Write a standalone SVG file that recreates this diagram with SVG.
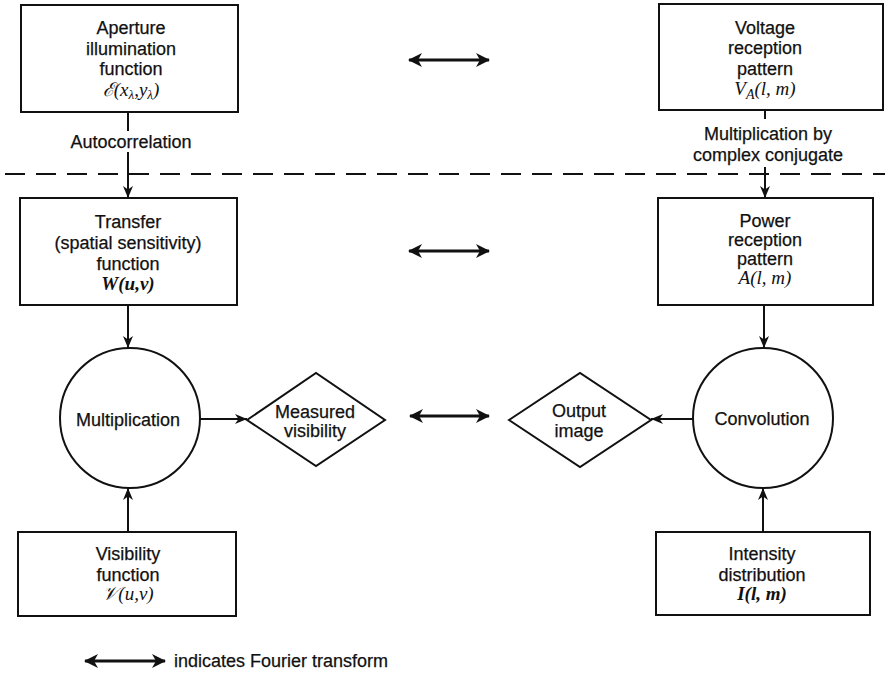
<svg xmlns="http://www.w3.org/2000/svg" width="885" height="674" viewBox="0 0 885 674">
<style>
.box{fill:#fff;stroke:#111;stroke-width:2}
.shape{fill:#fff;stroke:#111;stroke-width:2}
.t{font-family:"Liberation Sans",Arial,sans-serif;font-size:18px;fill:#111;text-anchor:middle;stroke:#111;stroke-width:0.25}
.m{font-family:"Liberation Serif","DejaVu Serif",serif;font-size:19px;font-style:italic;fill:#111;text-anchor:middle}
.mb{font-weight:bold}
.ln{fill:none;stroke:#111;stroke-width:2}
.dbl{fill:none;stroke:#111;stroke-width:3}
.dash{fill:none;stroke:#111;stroke-width:2;stroke-dasharray:20 11}
</style>
<defs>
<marker id="ah" viewBox="0 0 12 10" refX="12" refY="5" markerWidth="12" markerHeight="10" markerUnits="userSpaceOnUse" orient="auto">
<path d="M0,0 L12,5 L0,10 L3.5,5 z" fill="#111"/>
</marker>
<marker id="dh" viewBox="0 0 14 14" refX="13" refY="7" markerWidth="14" markerHeight="14" markerUnits="userSpaceOnUse" orient="auto-start-reverse">
<path d="M0,0 L14,7 L0,14 L4,7 z" fill="#111"/>
</marker>
</defs>
<rect width="885" height="674" fill="#fff"/>
<line class="dash" x1="5" y1="174" x2="885" y2="174"/>
<g id="aperture">
<rect class="box" x="21" y="5" width="217" height="107"/>
<text class="t" x="131" y="34">Aperture</text>
<text class="t" x="131" y="55">illumination</text>
<text class="t" x="131" y="75">function</text>
<text class="m" x="131" y="96">ℰ(<tspan>x</tspan><tspan font-size="13" dy="3">λ</tspan><tspan dy="-3">,</tspan><tspan>y</tspan><tspan font-size="13" dy="3">λ</tspan><tspan dy="-3">)</tspan></text>
</g>
<g id="voltage">
<rect class="box" x="659" y="4" width="224" height="106"/>
<text class="t" x="765" y="34">Voltage</text>
<text class="t" x="765" y="54">reception</text>
<text class="t" x="765" y="75">pattern</text>
<text class="m" x="765" y="95">V<tspan font-size="14" dy="4">A</tspan><tspan dy="-4">(l, m)</tspan></text>
</g>
<g id="transfer">
<rect class="box" x="20" y="198" width="217" height="107"/>
<text class="t" x="128" y="228">Transfer</text>
<text class="t" x="128" y="249">(spatial sensitivity)</text>
<text class="t" x="128" y="270">function</text>
<text class="m mb" x="128" y="290">W(u,v)</text>
</g>
<g id="power">
<rect class="box" x="658" y="198" width="215" height="107"/>
<text class="t" x="765" y="227">Power</text>
<text class="t" x="765" y="246">reception</text>
<text class="t" x="765" y="265">pattern</text>
<text class="m" x="765" y="284">A(l, m)</text>
</g>
<g id="multiplication">
<circle class="shape" cx="130" cy="418" r="70"/>
<text class="t" x="128" y="426">Multiplication</text>
</g>
<g id="measured">
<polygon class="shape" points="247,420 316,373 385,420 316,466"/>
<text class="t" x="315" y="418">Measured</text>
<text class="t" x="315" y="437">visibility</text>
</g>
<g id="output">
<polygon class="shape" points="509,420 580,373 651,420 580,467"/>
<text class="t" x="579" y="417">Output</text>
<text class="t" x="579" y="437">image</text>
</g>
<g id="convolution">
<circle class="shape" cx="763" cy="418" r="70"/>
<text class="t" x="762" y="425">Convolution</text>
</g>
<g id="visibility">
<rect class="box" x="18" y="532" width="218" height="84"/>
<text class="t" x="128" y="560">Visibility</text>
<text class="t" x="128" y="581">function</text>
<text class="m" x="128" y="600">𝒱(u,v)</text>
</g>
<g id="intensity">
<rect class="box" x="656" y="532" width="214" height="83"/>
<text class="t" x="762" y="560">Intensity</text>
<text class="t" x="762" y="581">distribution</text>
<text class="m mb" x="762" y="600">I(l, m)</text>
</g>
<g id="labels">
<text class="t" x="131" y="148">Autocorrelation</text>
<text class="t" x="768" y="140">Multiplication by</text>
<text class="t" x="768" y="161">complex conjugate</text>
<text class="t" x="174" y="667" style="text-anchor:start">indicates Fourier transform</text>
</g>
<g id="connectors">
<line class="ln" x1="128" y1="112" x2="128" y2="131"/>
<line class="ln" x1="128" y1="152" x2="128" y2="198" marker-end="url(#ah)"/>
<line class="ln" x1="765" y1="110" x2="765" y2="119"/>
<line class="ln" x1="765" y1="167" x2="765" y2="198" marker-end="url(#ah)"/>
<line class="ln" x1="128" y1="305" x2="128" y2="348" marker-end="url(#ah)"/>
<line class="ln" x1="764" y1="305" x2="764" y2="348" marker-end="url(#ah)"/>
<line class="ln" x1="128" y1="532" x2="128" y2="488" marker-end="url(#ah)"/>
<line class="ln" x1="763" y1="532" x2="763" y2="488" marker-end="url(#ah)"/>
<line class="ln" x1="200" y1="419" x2="247" y2="419" marker-end="url(#ah)"/>
<line class="ln" x1="693" y1="419" x2="651" y2="419" marker-end="url(#ah)"/>
<line class="dbl" x1="409" y1="60" x2="489" y2="60" marker-start="url(#dh)" marker-end="url(#dh)"/>
<line class="dbl" x1="409" y1="251" x2="489" y2="251" marker-start="url(#dh)" marker-end="url(#dh)"/>
<line class="dbl" x1="410" y1="416" x2="489" y2="416" marker-start="url(#dh)" marker-end="url(#dh)"/>
<line class="dbl" x1="85" y1="661" x2="165" y2="661" marker-start="url(#dh)" marker-end="url(#dh)"/>
</g>
</svg>
